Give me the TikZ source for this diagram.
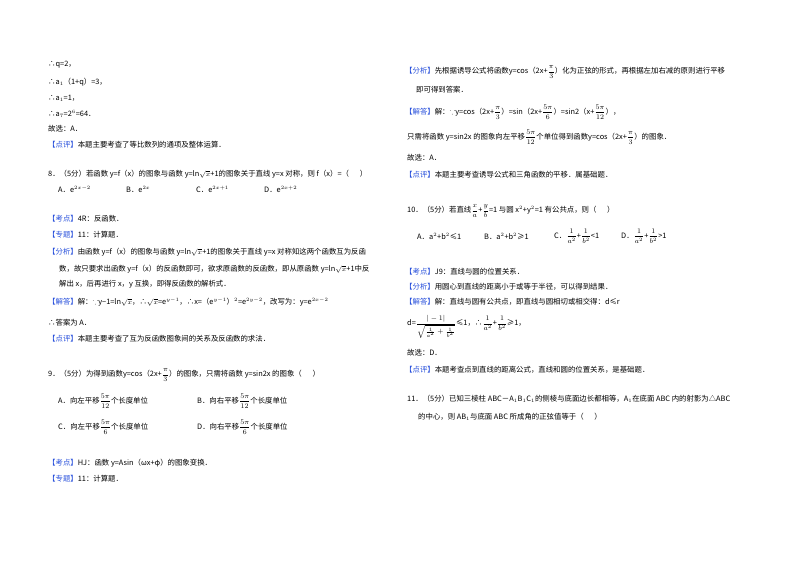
\documentclass[tikz,border=0pt]{standalone}
\usepackage{fontspec}
\usepackage{amsmath,amssymb}
\setmainfont{Noto Sans CJK SC}
\definecolor{bk}{RGB}{40,80,220}
\newcommand{\bkt}[1]{{\color{bk}【#1】}}
\newcommand{\fr}[2]{$\dfrac{#1}{#2}$}
\begin{document}
\begin{tikzpicture}[x=1pt,y=-1pt,
  ln/.style={anchor=west,inner sep=0pt,font=\fontsize{7.4}{8}\selectfont}]
\useasboundingbox (0,0) rectangle (800,565);
\fill[white] (0,0) rectangle (800,565);
% left column
\node[ln] (l1) at (48,65) {∴q=2，};
\node[ln] (l2) at (48,82) {∴a$_1$（1+q）=3，};
\node[ln] (l3) at (48,98) {∴a$_1$=1，};
\node[ln] (l4) at (48,114) {∴a$_7$=2$^6$=64．};
\node[ln] (l5) at (48,129) {故选：A．};
\node[ln] (l6) at (48,145) {\bkt{点评}本题主要考查了等比数列的通项及整体运算．};
\node[ln] (q8) at (48,174) {8．（5分）若函数 y=f（x）的图象与函数 y=ln$\sqrt{x}$+1的图象关于直线 y=x 对称，则 f（x）=（\quad\ \ ）};
\node[ln] (q8a) at (58,189) {A．e$^{2x-2}$};
\node[ln] (q8b) at (126,189) {B．e$^{2x}$};
\node[ln] (q8c) at (196,189) {C．e$^{2x+1}$};
\node[ln] (q8d) at (264,189) {D．e$^{2x+2}$};
\node[ln] (k8) at (48,219) {\bkt{考点}4R：反函数．};
\node[ln] (z8) at (48,235) {\bkt{专题}11：计算题．};
\node[ln] (f8a) at (48,252) {\bkt{分析}由函数 y=f（x）的图象与函数 y=ln$\sqrt{x}$+1的图象关于直线 y=x 对称知这两个函数互为反函};
\node[ln] (f8b) at (59,269) {数，故只要求出函数 y=f（x）的反函数即可，欲求原函数的反函数，即从原函数 y=ln$\sqrt{x}$+1中反};
\node[ln] (f8c) at (59,284) {解出 x，后再进行 x，y 互换，即得反函数的解析式．};
\node[ln] (j8) at (48,302) {\bkt{解答}解：$\because$y−1=ln$\sqrt{x}$，∴$\sqrt{x}$=e$^{y-1}$，∴x=（e$^{y-1}$）$^2$=e$^{2y-2}$，改写为：y=e$^{2x-2}$};
\node[ln] (a8) at (48,323) {∴答案为 A．};
\node[ln] (p8) at (48,339) {\bkt{点评}本题主要考查了互为反函数图象间的关系及反函数的求法．};
\node[ln] (q9) at (48,375) {9．（5分）为得到函数y=cos（2x+\fr{\pi}{3}）的图象，只需将函数 y=sin2x 的图象（\quad\ \ ）};
\node[ln] (q9a) at (58,401) {A．向左平移\fr{5\pi}{12}个长度单位};
\node[ln] (q9b) at (197,401) {B．向右平移\fr{5\pi}{12}个长度单位};
\node[ln] (q9c) at (58,427) {C．向左平移\fr{5\pi}{6}个长度单位};
\node[ln] (q9d) at (197,427) {D．向右平移\fr{5\pi}{6}个长度单位};
\node[ln] (k9) at (48,463) {\bkt{考点}HJ：函数 y=Asin（ωx+φ）的图象变换．};
\node[ln] (z9) at (48,479) {\bkt{专题}11：计算题．};
% right column
\node[ln] (f9a) at (405,72) {\bkt{分析}先根据诱导公式将函数y=cos（2x+\fr{\pi}{3}）化为正弦的形式，再根据左加右减的原则进行平移};
\node[ln] (f9b) at (416,90) {即可得到答案．};
\node[ln] (j9) at (405,112) {\bkt{解答}解：$\because$y=cos（2x+\fr{\pi}{3}）=sin（2x+\fr{5\pi}{6}）=sin2（x+\fr{5\pi}{12}），};
\node[ln] (j9b) at (407,137) {只需将函数 y=sin2x 的图象向左平移\fr{5\pi}{12}个单位得到函数y=cos（2x+\fr{\pi}{3}）的图象．};
\node[ln] (g9) at (407,158) {故选：A．};
\node[ln] (p9) at (405,175) {\bkt{点评}本题主要考查诱导公式和三角函数的平移．属基础题．};
\node[ln] (q10) at (407,211) {10．（5分）若直线\fr{x}{a}+\fr{y}{b}=1 与圆 x$^2$+y$^2$=1 有公共点，则（\quad\ \ ）};
\node[ln] (q10a) at (417,236) {A．a$^2$+b$^2$≤1};
\node[ln] (q10b) at (484,236) {B．a$^2$+b$^2$≥1};
\node[ln] (q10c) at (554,236) {C．\fr{1}{a^2}+\fr{1}{b^2}<1};
\node[ln] (q10d) at (621,236) {D．\fr{1}{a^2}+\fr{1}{b^2}>1};
\node[ln] (k10) at (405,272) {\bkt{考点}J9：直线与圆的位置关系．};
\node[ln] (f10) at (405,287) {\bkt{分析}用圆心到直线的距离小于或等于半径，可以得到结果．};
\node[ln] (j10) at (405,302) {\bkt{解答}解：直线与圆有公共点，即直线与圆相切或相交得：d≤r};
\node[ln] (d10) at (407,327) {d=$\dfrac{|-1|}{\sqrt{\frac{1}{a^2}+\frac{1}{b^2}}}$≤1，∴\fr{1}{a^2}+\fr{1}{b^2}≥1，};
\node[ln] (g10) at (407,353) {故选：D．};
\node[ln] (p10) at (405,370) {\bkt{点评}本题考查点到直线的距离公式，直线和圆的位置关系，是基础题．};
\node[ln] (q11) at (407,399) {11．（5分）已知三棱柱 ABC－A$_1$B$_1$C$_1$的侧棱与底面边长都相等，A$_1$在底面 ABC 内的射影为△ABC};
\node[ln] (q11b) at (418,417) {的中心，则 AB$_1$与底面 ABC 所成角的正弦值等于（\quad\ \ ）};
\end{tikzpicture}
\end{document}
